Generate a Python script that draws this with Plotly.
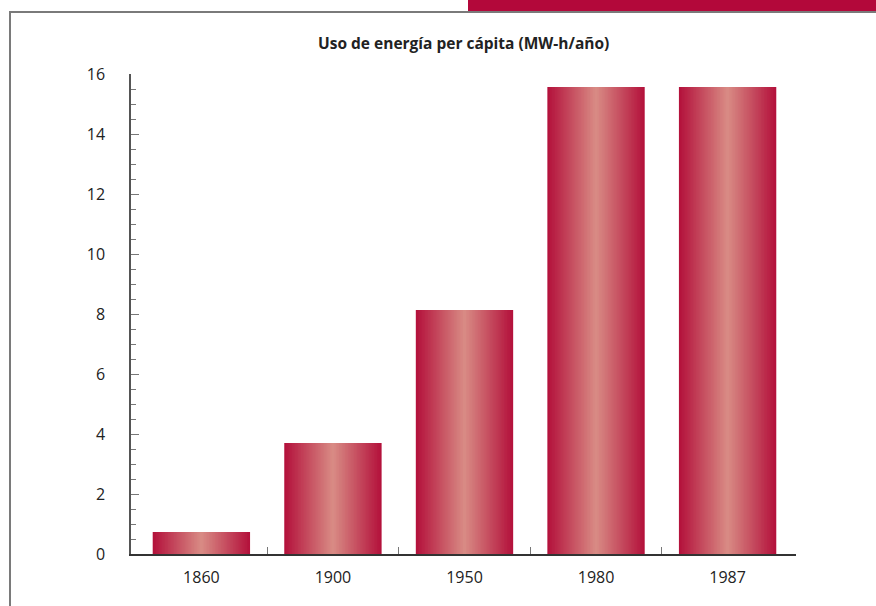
import plotly.graph_objects as go

years = ["1860", "1900", "1950", "1980", "1987"]
values = [0.73, 3.7, 8.13, 15.57, 15.57]
y_ticks = [0, 2, 4, 6, 8, 10, 12, 14, 16]
title_text = "Uso de energía per cápita (MW-h/año)"

W, H = 876, 606
edge = (180, 18, 60)
center = (216, 138, 132)
N = 32
bar_w = 0.74
xs = list(range(len(years)))

fig = go.Figure()
for k in range(N):
    t = k / (N - 1)
    c = tuple(round(edge[i] + (center[i] - edge[i]) * t) for i in range(3))
    w = bar_w * (1 - k / N)
    fig.add_trace(go.Bar(
        x=xs, y=values, width=w,
        marker=dict(color="rgb(%d,%d,%d)" % c, line=dict(width=0)),
        hoverinfo="skip", showlegend=False,
    ))

def px_x(p):
    return p / W

def px_y(p):
    return 1 - p / H

fig.update_layout(
    width=W, height=H,
    margin=dict(l=0, r=0, t=0, b=0, pad=0, autoexpand=False),
    paper_bgcolor="white", plot_bgcolor="white",
    barmode="overlay",
    font=dict(family="Open Sans", size=16, color="#222222"),
    xaxis=dict(
        domain=[px_x(131), px_x(796)],
        range=[-0.535, 4.52],
        tickvals=xs, ticktext=years,
        ticks="", showgrid=False, zeroline=False,
        showline=True, linecolor="#333333", linewidth=1.5,
        ticklabelstandoff=8, automargin=False,
        minor=dict(tickvals=[0.5, 1.5, 2.5, 3.5], ticks="inside",
                   ticklen=7, tickcolor="#777777", tickwidth=1.2),
        fixedrange=True,
    ),
    yaxis=dict(
        domain=[px_y(554), px_y(74)],
        range=[0, 16],
        tickvals=y_ticks,
        ticks="inside", ticklen=8, tickcolor="#777777", tickwidth=1.2,
        showgrid=False, zeroline=False,
        showline=True, linecolor="#555555", linewidth=1.5,
        ticklabelstandoff=21, automargin=False,
        minor=dict(dtick=0.5, ticks="inside", ticklen=5,
                   tickcolor="#777777", tickwidth=1.2, showgrid=False),
        fixedrange=True,
    ),
    shapes=[
        dict(type="rect", xref="paper", yref="paper",
             x0=px_x(468), x1=1.0, y0=px_y(11), y1=1.0,
             fillcolor="#B3083A", line=dict(width=0)),
        dict(type="rect", xref="paper", yref="paper",
             x0=px_x(9), x1=1.0, y0=px_y(13), y1=px_y(11),
             fillcolor="#7a7a7a", line=dict(width=0)),
        dict(type="rect", xref="paper", yref="paper",
             x0=px_x(9), x1=px_x(11), y0=0, y1=px_y(11),
             fillcolor="#7a7a7a", line=dict(width=0)),
    ],
    annotations=[
        dict(text="<b>" + title_text + "</b>", xref="paper", yref="paper",
             x=px_x(463), y=px_y(43), xanchor="center", yanchor="middle",
             showarrow=False, font=dict(family="Open Sans", size=15.5, color="#222222")),
    ],
)

post = (
    "document.documentElement.style.margin='0';"
    "document.documentElement.style.overflow='hidden';"
    "document.body.style.margin='0';"
    "document.body.style.overflow='hidden';"
    "var d=document.getElementById('{plot_id}');"
    "d.style.position='fixed';d.style.top='0px';d.style.left='0px';"
)

fig.write_html("out.html", config={"displayModeBar": False}, post_script=post)
